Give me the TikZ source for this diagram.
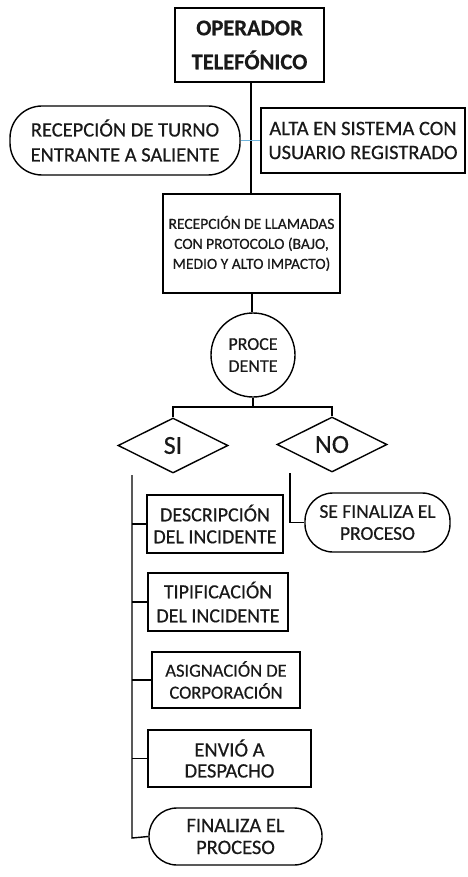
\documentclass[tikz,border=0pt]{standalone}
\usepackage{fontspec}
\setmainfont{Carlito}[FakeBold=0.5]
\usetikzlibrary{shapes.geometric}
\tikzset{
  box/.style={draw, line width=1.4pt, rectangle, inner sep=0pt, align=center, text=black!90},
  oval/.style={box, rounded corners=28pt},
  dia/.style={draw, line width=1.4pt, diamond, inner sep=0pt, aspect=2, minimum width=110pt, minimum height=55pt, text=black!90},
  conn/.style={line width=1.4pt},
}
\newcommand{\fs}[2]{\fontsize{#1}{#2}\selectfont}
\begin{document}
\begin{tikzpicture}[x=1pt,y=-1pt]
\useasboundingbox[fill=white] (0,0) rectangle (467,877);
\node[box, minimum width=149pt, minimum height=74pt, font=\fs{22.5}{34}\bfseries] (op) at (249.5,45) {OPERADOR\\TELEFÓNICO};
\node[oval, minimum width=230pt, minimum height=69pt, rounded corners=32pt, font=\fs{20.5}{25}] (turno) at (125,140.5) {RECEPCIÓN DE TURNO\\ENTRANTE A SALIENTE};
\node[box, minimum width=204pt, minimum height=65pt, font=\fs{20.5}{24}] (alta) at (363,140.5) {ALTA EN SISTEMA CON\\USUARIO REGISTRADO};
\node[box, minimum width=177pt, minimum height=99pt, font=\fs{15.5}{20}] (llam) at (251.5,243.5) {RECEPCIÓN DE LLAMADAS\\CON PROTOCOLO (BAJO,\\MEDIO Y ALTO IMPACTO)};
\node[draw, line width=1.4pt, circle, minimum size=84pt, inner sep=0pt, align=center, font=\fs{18}{22}, text=black!90] (proc) at (253,355) {PROCE\\DENTE};
\node[dia, font=\fs{26}{30}] (si) at (173,445.5) {SI};
\node[dia, font=\fs{26}{30}] (no) at (332,444.5) {NO};
\node[box, minimum width=136pt, minimum height=58pt, font=\fs{20}{22}] (desc) at (215,524) {DESCRIPCIÓN\\DEL INCIDENTE};
\node[oval, minimum width=145pt, minimum height=59pt, font=\fs{19.5}{22}] (sefin) at (377.5,522.5) {SE FINALIZA EL\\PROCESO};
\node[box, minimum width=140pt, minimum height=58pt, font=\fs{20}{24}] (tipi) at (218,602) {TIPIFICACIÓN\\DEL INCIDENTE};
\node[box, minimum width=148pt, minimum height=56pt, font=\fs{18.5}{22}] (asig) at (226,680) {ASIGNACIÓN DE\\CORPORACIÓN};
\node[box, minimum width=163pt, minimum height=57pt, font=\fs{20.5}{21}] (envio) at (229.5,758.5) {ENVIÓ A\\DESPACHO};
\node[oval, minimum width=173pt, minimum height=57pt, font=\fs{20.5}{22}] (fin) at (235.5,836.5) {FINALIZA EL\\PROCESO};
% connectors
\draw[conn] (op.south -| 251,0) -- (llam.north -| 251,0);
\draw[line width=1.4pt, color={rgb,255:red,110;green,180;blue,220}] (turno.east) -- (alta.west);
\draw[conn] (llam.south -| 252,0) -- (proc.north -| 252,0);
\coordinate (br) at (253,407);
\draw[conn] (proc.south) -- (br);
\draw[conn] (si.north) -- (si.north |- br) -- (no.north |- br) -- (no.north);
\coordinate (s1) at (132,475);
\coordinate (s2) at (132,838);
\draw[conn] (s1) -- (s2) -- (fin.west);
\draw[conn] (s1 |- desc.west) -- (desc.west);
\draw[conn] (s1 |- tipi.west) -- (tipi.west);
\draw[conn] (s1 |- asig.west) -- (asig.west);
\draw[conn] (s1 |- envio.west) -- (envio.west);
\coordinate (n1) at (290,473);
\draw[conn] (n1) -- (n1 |- sefin.west) -- (sefin.west);
\end{tikzpicture}
\end{document}
